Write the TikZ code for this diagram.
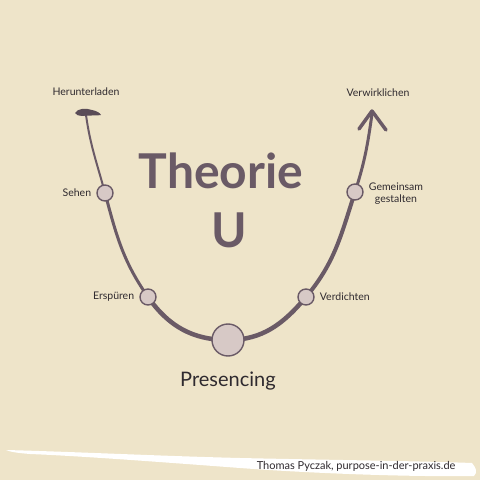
\documentclass[tikz,border=0pt]{standalone}
\usepackage{fontspec}
\setmainfont{Lato}
\definecolor{bg}{HTML}{EEE4C9}
\definecolor{ucol}{HTML}{6A5A66}
\definecolor{dotfill}{HTML}{D7C9C6}
\definecolor{txt}{HTML}{2F2A2F}
\tikzset{
  dot/.style={circle, draw=ucol, line width=1.4pt, fill=dotfill, inner sep=0pt, minimum size=#1},
  lbl/.style={text=txt, font=\fontsize{10.5}{12}\selectfont, inner sep=1pt},
  ustroke/.style={draw=ucol, line cap=round},
}
\begin{document}
\begin{tikzpicture}[x=1pt,y=1pt]
\useasboundingbox (0,0) rectangle (480,480);
\fill[bg] (0,0) rectangle (480,480);
% white brush stroke at the bottom
\fill[white] (6,30) .. controls (80,28) and (160,24) .. (240,22) .. controls (330,20) and (420,19) .. (472,17)
  .. controls (476,12) and (478,8) .. (474,4)
  .. controls (420,3) and (320,6) .. (240,12) .. controls (160,18) and (80,24) .. (30,26)
  .. controls (18,27) and (10,28) .. cycle;
% positions
\coordinate (tl) at (86,365);
\coordinate (p1) at (105,287);
\coordinate (p2) at (148,183);
\coordinate (p3) at (228,140);
\coordinate (p4) at (306,183);
\coordinate (p5) at (355,288);
\coordinate (tr) at (372,366);
% U curve with varying width
\draw[ustroke, line width=2pt] (tl) to[out=-82,in=105] (p1);
\draw[ustroke, line width=3pt] (p1) to[out=-75,in=125] (p2);
\draw[ustroke, line width=4.5pt] (p2) to[out=-55,in=180] (p3);
\draw[ustroke, line width=4.5pt] (p3) to[out=0,in=230] (p4);
\draw[ustroke, line width=4pt] (p4) to[out=50,in=252] (p5);
\draw[ustroke, line width=3pt] (p5) to[out=72,in=262] (tr);
% brush-like ends
\fill[ucol!85!black] (75,367) .. controls (78,372) and (86,372) .. (92,370) .. controls (97,369) and (100,367) .. (101,365)
  .. controls (96,364) and (88,365) .. (82,364) .. controls (79,364) and (76,365) .. cycle;
\draw[ucol, line width=3.5pt, line join=round, line cap=round] (359,351) -- (372,369) -- (386,350);
% circles
\node[dot=16pt] (sehen) at (p1) {};
\node[dot=16pt] (erspueren) at (p2) {};
\node[dot=32pt] (presencing) at (p3) {};
\node[dot=16pt] (verdichten) at (p4) {};
\node[dot=16pt] (gemeinsam) at (p5) {};
% labels
\node[lbl] (l0) at (86,388) {Herunterladen};
\node[lbl] (l6) at (378,387) {Verwirklichen};
\node[lbl, anchor=east] (l1) at ([xshift=-4pt]sehen.west) {Sehen};
\node[lbl, anchor=east] (l2) at ([xshift=-4pt]erspueren.west) {Erspüren};
\node[lbl, anchor=west] (l4) at ([xshift=4pt]verdichten.east) {Verdichten};
\node[lbl, anchor=west, align=center] (l5) at ([xshift=4pt,yshift=-2pt]gemeinsam.east) {Gemeinsam\\gestalten};
\node[text=txt, font=\fontsize{20}{24}\selectfont] (l3) at (228,99) {Presencing};
% title
\node[text=ucol, font=\fontsize{48}{52}\selectfont\bfseries] (t1) at (221,309) {Theorie};
\node[text=ucol, font=\fontsize{48}{52}\selectfont\bfseries] (t2) at (229,250) {U};
% footer
\node[text=txt, font=\fontsize{11}{13}\selectfont, anchor=east] (f) at (459,14) {Thomas Pyczak, purpose-in-der-praxis.de};
\end{tikzpicture}
\end{document}
